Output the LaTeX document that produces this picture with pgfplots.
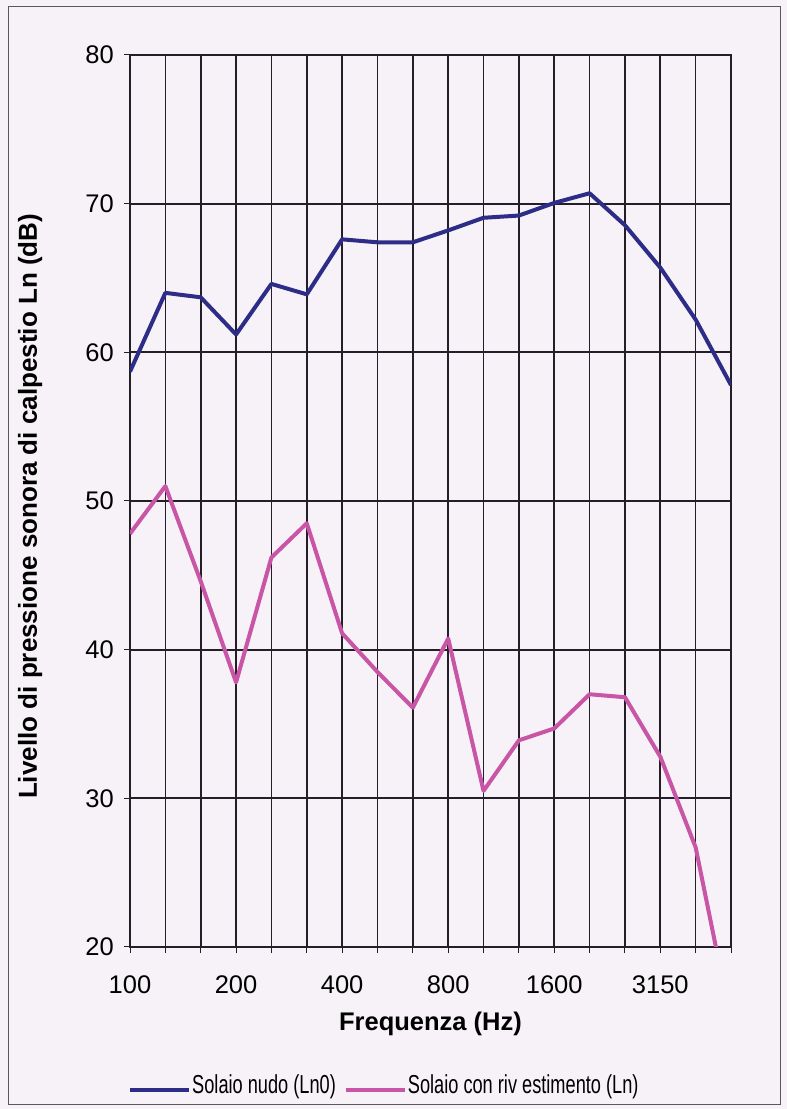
\documentclass[border=0pt]{standalone}
\usepackage{pgfplots}
\pgfplotsset{compat=1.18}
\usepackage{fontspec}
\setmainfont{Liberation Sans}
\usepackage{graphicx}
\definecolor{navy}{RGB}{45,45,135}
\definecolor{pinkl}{RGB}{200,85,165}
\definecolor{paper}{RGB}{246,242,247}
\definecolor{gridc}{RGB}{35,30,40}
\begin{document}
\begin{tikzpicture}[x=1pt,y=1pt]
\useasboundingbox (0,0) rectangle (787,1109);
\fill[paper] (0,0) rectangle (787,1109);
\draw[gray!70!black, line width=1pt] (8,4) rectangle (780,1102);
\begin{axis}[
  at={(130pt,162pt)}, anchor=south west,
  scale only axis, width=601pt, height=892pt,
  xmin=0, xmax=17, ymin=20, ymax=80,
  xtick={0,...,17},
  xticklabels={100,,,200,,,400,,,800,,,1600,,,3150,,},
  ytick={20,30,...,80},
  xtick pos=bottom, ytick pos=left,
  tick align=outside, major tick length=6pt,
  tick style={gridc, line width=1pt},
  grid=major,
  x grid style={gridc, line width=1.6pt},
  y grid style={gridc, line width=2pt},
  axis line style={gridc, line width=1.8pt},
  /pgf/number format/assume math mode=true,
  tick label style={font=\fontsize{25.5}{28}\selectfont},
  yticklabel style={anchor=east, inner sep=0pt, xshift=-10pt},
  xticklabel style={anchor=north, inner sep=0pt, yshift=-22pt},
  ylabel={Livello di pressione sonora di calpestio Ln (dB)},
  ylabel style={at={(axis description cs:-0.166,0.494)}, anchor=center, inner sep=0pt, font=\bfseries\fontsize{26}{30}\selectfont},
  xlabel={Frequenza (Hz)},
  xlabel style={at={(axis description cs:0.5,0)}, anchor=north, yshift=-65pt, inner sep=0pt, font=\bfseries\fontsize{25.5}{30}\selectfont},
  legend style={at={(axis description cs:-0.0033,-0.1547)}, anchor=west, draw=none, fill=none, inner sep=0pt,
    font=\fontsize{26}{28}\selectfont, nodes={inner sep=0pt},
    /tikz/every odd column/.append style={column sep=1pt},
    /tikz/every even column/.append style={column sep=8pt}},
  legend columns=-1,
  legend image code/.code={\draw[#1, line width=4pt] (0pt,-5pt) -- (59pt,-5pt);},
  every axis plot/.append style={line width=4pt, line join=round},
]
\addplot[navy, mark=none] coordinates {
(0,58.7) (1,64.0) (2,63.7) (3,61.2) (4,64.6) (5,63.9) (6,67.6) (7,67.4) (8,67.4)
(9,68.2) (10,69.05) (11,69.2) (12,70.05) (13,70.7) (14,68.55) (15,65.7) (16,62.2) (17,57.8)};
\addlegendentry{\scalebox{0.70}[1]{Solaio nudo (Ln0)}}
\addplot[pinkl, mark=none] coordinates {
(0,47.8) (1,51.0) (2,44.6) (3,37.8) (4,46.2) (5,48.5) (6,41.1) (7,38.5) (8,36.1)
(9,40.75) (10,30.5) (11,33.9) (12,34.7) (13,37.0) (14,36.8) (15,32.8) (16,26.7) (17,15)};
\addlegendentry{\scalebox{0.70}[1]{Solaio con riv estimento (Ln)}}
\end{axis}
\end{tikzpicture}
\end{document}
